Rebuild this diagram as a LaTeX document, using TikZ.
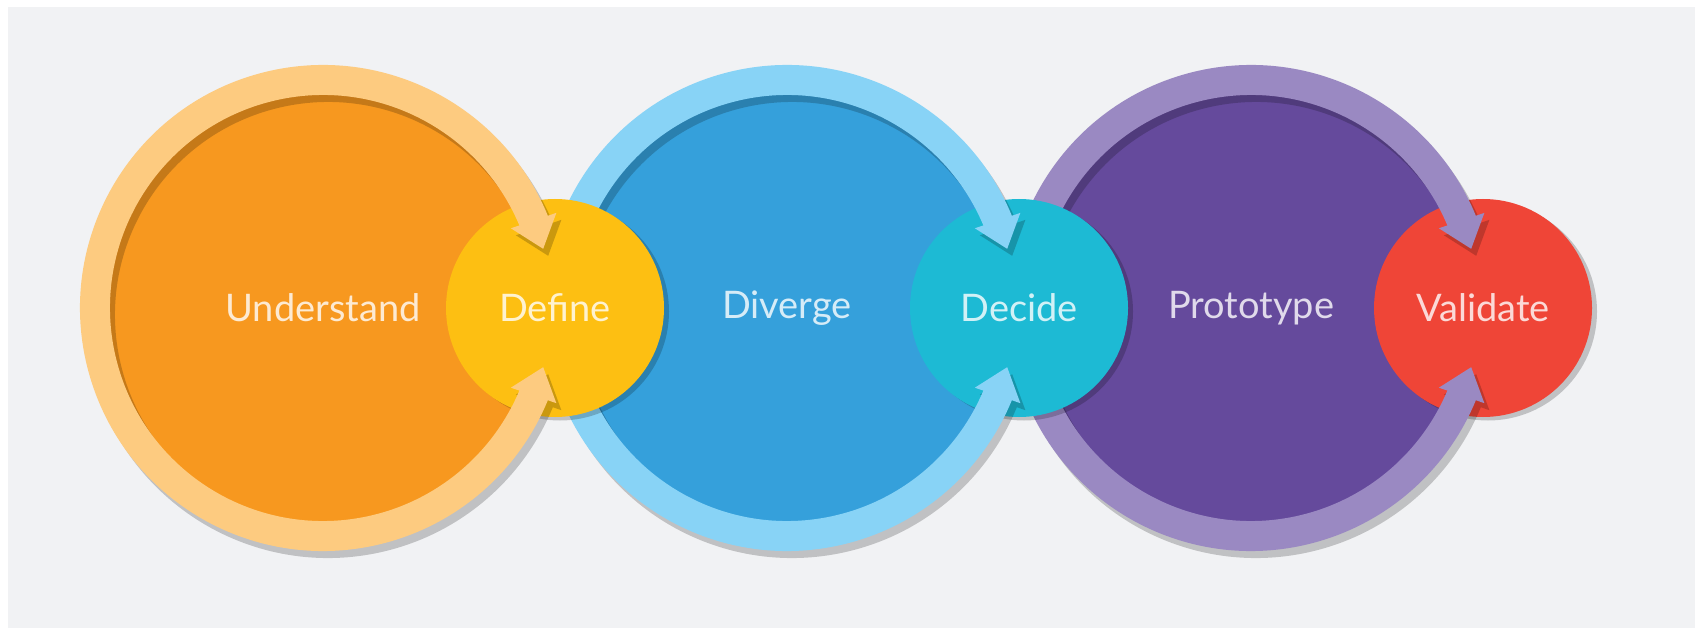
\documentclass[tikz,border=0pt]{standalone}
\usepackage{fontspec}
\setmainfont{Lato}
\usetikzlibrary{arrows.meta,bending,shadows}
\definecolor{panel}{HTML}{F1F2F4}
\definecolor{orangefill}{HTML}{F7981F}
\definecolor{orangering}{HTML}{FDCB80}
\definecolor{bluefill}{HTML}{35A0DB}
\definecolor{bluering}{HTML}{88D3F6}
\definecolor{purplefill}{HTML}{654A9C}
\definecolor{purplering}{HTML}{9A89C2}
\definecolor{definecol}{HTML}{FDBF12}
\definecolor{decidecol}{HTML}{1DBAD4}
\definecolor{validatecol}{HTML}{EF4537}
\begin{document}
\begin{tikzpicture}[big style/.style={circle, inner sep=0pt, minimum size=4.3cm, text=white, text opacity=0.8, font=\fontsize{10.8}{13}\selectfont},
	small style/.style={circle, inner sep=0pt, minimum size=2.18cm, text=white, text opacity=0.8, font=\fontsize{10.8}{13}\selectfont, drop shadow={shadow xshift=0.05cm, shadow yshift=-0.035cm, opacity=0.2, fill=black}},
	ring style/.style={line width=0.3cm, {Triangle[length=0.3cm, width=0.46cm]}-{Triangle[length=0.3cm, width=0.46cm]}}]
	\useasboundingbox (0,0) rectangle (16.95,6.29);
	\fill[white] (0,0) rectangle (16.95,6.29);
	\fill[panel] (0.08,0.01) rectangle (16.95,6.22);
	% big circles
	\node[big style, fill=orangefill] (B1) at (3.23, 3.21) {Understand};
	\node[big style, fill=bluefill] (B2) at (7.87, 3.21) {Diverge};
	\node[big style, fill=purplefill] (B3) at (12.51, 3.21) {Prototype};
	% from right to left, so each ring lies over the next circle
	\node[small style, fill=validatecol] (S3) at (14.83, 3.21) {Validate};
	\begin{scope}[transparency group, opacity=0.2]
	\draw[ring style, black] ([shift={(15:2.28)}]B3.center) ++(0.05,-0.07) arc[start angle=15, end angle=345, radius=2.28];
	\end{scope}
	\draw[ring style, purplering] ([shift={(15:2.28)}]B3.center) arc[start angle=15, end angle=345, radius=2.28];
	\node[small style, fill=decidecol] (S2) at (10.19, 3.21) {Decide};
	\begin{scope}[transparency group, opacity=0.2]
	\draw[ring style, black] ([shift={(15:2.28)}]B2.center) ++(0.05,-0.07) arc[start angle=15, end angle=345, radius=2.28];
	\end{scope}
	\draw[ring style, bluering] ([shift={(15:2.28)}]B2.center) arc[start angle=15, end angle=345, radius=2.28];
	\node[small style, fill=definecol] (S1) at (5.55, 3.21) {Define};
	\begin{scope}[transparency group, opacity=0.2]
	\draw[ring style, black] ([shift={(15:2.28)}]B1.center) ++(0.05,-0.07) arc[start angle=15, end angle=345, radius=2.28];
	\end{scope}
	\draw[ring style, orangering] ([shift={(15:2.28)}]B1.center) arc[start angle=15, end angle=345, radius=2.28];
\end{tikzpicture}
\end{document}
